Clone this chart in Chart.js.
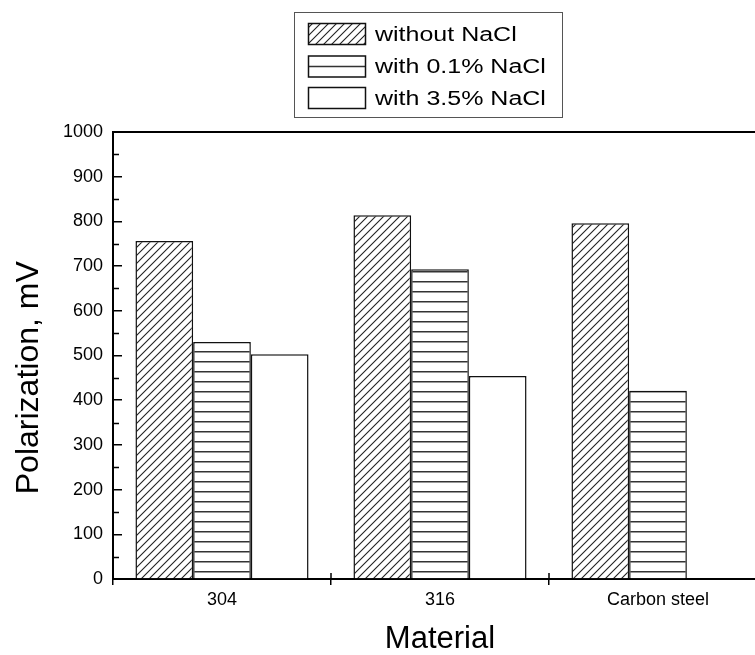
<!DOCTYPE html>
<html>
<head>
<meta charset="utf-8">
<script src="https://cdn.jsdelivr.net/npm/chart.js@4.4.1/dist/chart.umd.min.js"></script>
<style>
  html, body { margin: 0; padding: 0; background: #fff; overflow: hidden; }
  #wrap { width: 770px; height: 655px; }
</style>
</head>
<body>
<div id="wrap"><canvas id="barChart" width="770" height="655"></canvas></div>
<script>
const materials = ['304', '316', 'Carbon steel'];
const seriesNames = ['without NaCl', 'with 0.1% NaCl', 'with 3.5% NaCl'];
const withoutNaCl = [756, 814, 796];
const with01NaCl = [530, 693, 421];
const with35NaCl = [503, 454, null];
const yTickValues = [0, 100, 200, 300, 400, 500, 600, 700, 800, 900, 1000];
const yMinorValues = [50, 150, 250, 350, 450, 550, 650, 750, 850, 950];

const FONT = '"Liberation Sans", Arial, sans-serif';

const canvas = document.getElementById('barChart');
const ctx = canvas.getContext('2d');

// fill patterns for the bars
function makeHatch() {
    const c = document.createElement('canvas');
    c.width = 8; c.height = 8;
    const g = c.getContext('2d');
    g.fillStyle = '#fff';
    g.fillRect(0, 0, 8, 8);
    g.strokeStyle = '#222';
    g.lineWidth = 1.1;
    g.beginPath();
    g.moveTo(0, 8); g.lineTo(8, 0);
    g.moveTo(-1, 1); g.lineTo(1, -1);
    g.moveTo(7, 9); g.lineTo(9, 7);
    g.stroke();
    return ctx.createPattern(c, 'repeat');
}

function makeStripes() {
    const c = document.createElement('canvas');
    c.width = 10; c.height = 10;
    const g = c.getContext('2d');
    g.fillStyle = '#fff';
    g.fillRect(0, 0, 10, 10);
    g.fillStyle = '#333';
    g.fillRect(0, 1, 10, 1.5);
    return ctx.createPattern(c, 'repeat');
}

const hatch = makeHatch();
const stripes = makeStripes();

// frame, minor ticks and the boxed legend
const extrasPlugin = {
    id: 'extras',
    afterDraw(chart) {
        const { ctx, chartArea, scales } = chart;
        const ys = scales.y, xs = scales.x;
        ctx.save();
        ctx.strokeStyle = '#000';

        // top frame line
        ctx.lineWidth = 2;
        ctx.beginPath();
        ctx.moveTo(chartArea.left, chartArea.top);
        ctx.lineTo(chartArea.right, chartArea.top);
        ctx.stroke();

        // minor y ticks
        ctx.lineWidth = 1.5;
        ctx.beginPath();
        yMinorValues.forEach(v => {
            const y = Math.round(ys.getPixelForValue(v)) + 0.5;
            ctx.moveTo(chartArea.left, y);
            ctx.lineTo(chartArea.left + 6, y);
        });
        // inner half of x ticks between categories
        for (let i = 0; i < materials.length - 1; i++) {
            const x = (xs.getPixelForValue(i) + xs.getPixelForValue(i + 1)) / 2;
            ctx.moveTo(x, chartArea.bottom);
            ctx.lineTo(x, chartArea.bottom - 6);
        }
        ctx.stroke();

        // legend
        const boxL = 294.5, boxT = 12.5, boxW = 268, boxH = 105;
        ctx.fillStyle = '#fff';
        ctx.fillRect(boxL, boxT, boxW, boxH);
        ctx.strokeStyle = '#555';
        ctx.lineWidth = 1;
        ctx.strokeRect(boxL, boxT, boxW, boxH);

        const rowTops = [23, 55.5, 87];
        const sw = 57, sh = 21, sx = 308.5;
        chart.data.datasets.forEach((ds, i) => {
            const top = rowTops[i] + 0.5;
            ctx.fillStyle = i === 0 ? ds.backgroundColor : '#fff';
            ctx.fillRect(sx, top, sw, sh);
            if (i === 1) {
                ctx.strokeStyle = '#333';
                ctx.lineWidth = 1.5;
                ctx.beginPath();
                ctx.moveTo(sx, top + sh / 2);
                ctx.lineTo(sx + sw, top + sh / 2);
                ctx.stroke();
            }
            ctx.strokeStyle = '#111';
            ctx.lineWidth = 1.5;
            ctx.strokeRect(sx, top, sw, sh);

            // the source text is a little stretched sideways
            ctx.save();
            ctx.translate(375, top + sh / 2 + 1);
            ctx.scale(1.25, 1);
            ctx.font = '20px ' + FONT;
            ctx.textBaseline = 'middle';
            ctx.textAlign = 'left';
            ctx.fillStyle = '#000';
            ctx.fillText(ds.label, 0, 0);
            ctx.restore();
        });
        ctx.restore();
    }
};

const barStyle = {
    borderColor: '#111',
    borderWidth: 1.5,
    borderSkipped: 'start'
};

const chart = new Chart(ctx, {
    type: 'bar',
    data: {
        labels: materials,
        datasets: [
            Object.assign({ label: seriesNames[0], data: withoutNaCl, backgroundColor: hatch }, barStyle),
            Object.assign({ label: seriesNames[1], data: with01NaCl, backgroundColor: stripes }, barStyle),
            Object.assign({ label: seriesNames[2], data: with35NaCl, backgroundColor: '#fff' }, barStyle)
        ]
    },
    options: {
        responsive: false,
        animation: false,
        layout: { padding: { top: 132, right: 3, left: 0, bottom: 0 } },
        datasets: { bar: { categoryPercentage: 0.794, barPercentage: 1 } },
        plugins: {
            legend: { display: false },
            tooltip: { enabled: false }
        },
        scales: {
            x: {
                grid: { offset: true, drawOnChartArea: false, drawTicks: true, tickLength: 6, color: '#000', lineWidth: 1.5 },
                border: { color: '#000', width: 2 },
                ticks: { color: '#000', font: { family: FONT, size: 18 }, padding: 4 },
                title: { display: true, text: 'Material', color: '#000', font: { family: FONT, size: 31, lineHeight: 1 }, padding: { top: 1, bottom: 0 } },
                afterFit(scale) { scale.height = 76; }
            },
            y: {
                min: 0,
                max: 1000,
                afterBuildTicks(scale) { scale.ticks = yTickValues.map(v => ({ value: v })); },
                grid: { drawOnChartArea: false, drawTicks: true, tickLength: -9, color: '#000', lineWidth: 1.5 },
                border: { color: '#000', width: 2 },
                ticks: { color: '#000', font: { family: FONT, size: 18 }, padding: 19, callback: v => String(v) },
                title: { display: true, text: 'Polarization, mV     ', color: '#000', font: { family: FONT, size: 32 }, padding: { top: 10, bottom: 0 } },
                afterFit(scale) { scale.width = 113; }
            }
        }
    },
    plugins: [extrasPlugin]
});
</script>
</body>
</html>
